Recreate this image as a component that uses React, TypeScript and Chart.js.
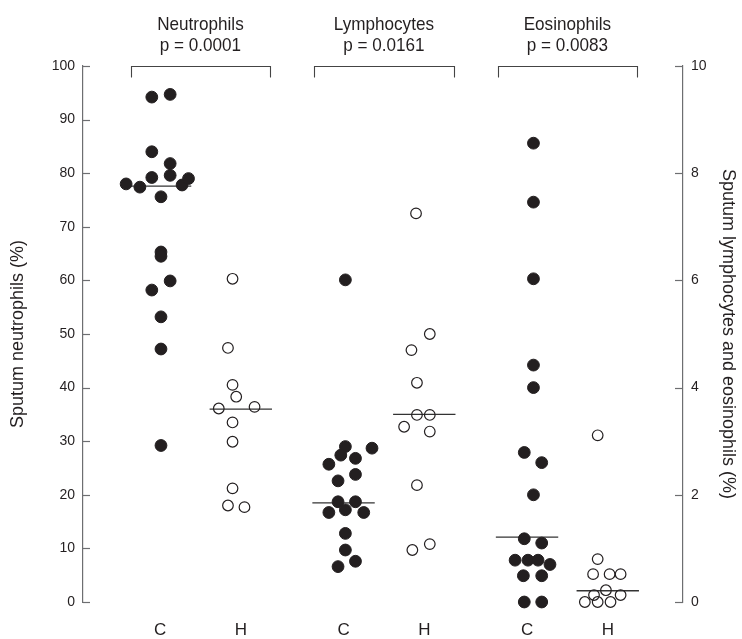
import { useEffect, useRef } from "react";
import { Chart, registerables } from "chart.js";

Chart.register(...registerables);

// ---------- data ----------
const groupNames = ["Neutrophils", "Lymphocytes", "Eosinophils"];
const groupPValues = ["p = 0.0001", "p = 0.0161", "p = 0.0083"];
const categoryLabels = ["C", "H", "C", "H", "C", "H"];
const leftTickValues = [0, 10, 20, 30, 40, 50, 60, 70, 80, 90, 100];
const rightTickValues = [0, 2, 4, 6, 8, 10];

// Sputum neutrophils (%), left axis
const neutroC = [94.2, 94.7, 84.0, 81.8, 79.2, 79.6, 78.0, 77.4, 77.8, 79.0, 75.6, 65.3, 64.5, 59.9, 58.2, 53.2, 47.2, 29.2];
const neutroCJitter = [-0.045, 0.055, -0.045, 0.055, -0.045, 0.055, -0.185, -0.11, 0.12, 0.155, 0.005, 0.005, 0.005, 0.055, -0.045, 0.005, 0.005, 0.005];
const neutroH = [60.3, 47.4, 40.5, 38.3, 36.1, 36.4, 33.5, 29.9, 21.2, 18.0, 17.7];
const neutroHJitter = [-0.045, -0.07, -0.045, -0.025, -0.12, 0.075, -0.045, -0.045, -0.045, -0.07, 0.02];

// Sputum lymphocytes (%), right axis
const lymphoC = [6.01, 2.9, 2.87, 2.74, 2.68, 2.57, 2.38, 2.26, 1.87, 1.87, 1.67, 1.72, 1.67, 1.28, 0.97, 0.76, 0.66];
const lymphoCJitter = [0.01, 0.01, 0.155, -0.015, 0.065, -0.08, 0.065, -0.03, -0.03, 0.065, -0.08, 0.01, 0.11, 0.01, 0.01, 0.065, -0.03];
const lymphoH = [7.25, 5.0, 4.7, 4.09, 3.49, 3.49, 3.27, 3.18, 2.18, 0.97, 1.08];
const lymphoHJitter = [-0.045, 0.03, -0.07, -0.04, -0.04, 0.03, -0.11, 0.03, -0.04, -0.065, 0.03];

// Sputum eosinophils (%), right axis
const eosinoC = [8.56, 7.46, 6.03, 4.42, 4.0, 2.79, 2.6, 2.0, 1.18, 1.1, 0.78, 0.78, 0.78, 0.7, 0.49, 0.49, 0.0, 0.0];
const eosinoCJitter = [0.035, 0.035, 0.035, 0.035, 0.035, -0.015, 0.08, 0.035, -0.015, 0.08, -0.065, 0.005, 0.06, 0.125, -0.02, 0.08, -0.015, 0.08];
const eosinoH = [3.11, 0.8, 0.52, 0.52, 0.52, 0.13, 0.22, 0.13, 0.0, 0.0, 0.0];
const eosinoHJitter = [-0.055, -0.055, -0.08, 0.01, 0.07, -0.075, -0.01, 0.07, -0.125, -0.055, 0.015];

// medians in category order C,H,C,H,C,H
const medians = [77.6, 36.0, 1.85, 3.5, 1.21, 0.21];

// ---------- styling ----------
const FONT = "'Liberation Sans', Arial, Helvetica, sans-serif";
const INK = "#231f20";
const AXIS = "#6d6e71";
const SIDE_OFFSET = 0.22;
const MEDIAN_HALF = 0.17;
const BRACKET_HALF = 0.38;

const catPos = (k: number) => Math.floor(k / 2) + (k % 2 === 0 ? -SIDE_OFFSET : SIDE_OFFSET);

const seriesList = [
  { values: neutroC, jitter: neutroCJitter, cat: 0, axis: "y", filled: true },
  { values: neutroH, jitter: neutroHJitter, cat: 1, axis: "y", filled: false },
  { values: lymphoC, jitter: lymphoCJitter, cat: 2, axis: "y2", filled: true },
  { values: lymphoH, jitter: lymphoHJitter, cat: 3, axis: "y2", filled: false },
  { values: eosinoC, jitter: eosinoCJitter, cat: 4, axis: "y2", filled: true },
  { values: eosinoH, jitter: eosinoHJitter, cat: 5, axis: "y2", filled: false },
];

const condensedText = (ctx: any, text: string, x: number, y: number) => {
  ctx.save();
  ctx.translate(x, y);
  ctx.scale(0.9, 1);
  ctx.fillText(text, 0, 0);
  ctx.restore();
};

const decorPlugin = {
  id: "decor",
  afterDraw(chart: any) {
    const ctx = chart.ctx;
    const xs = chart.scales.x;
    const yl = chart.scales.y;
    const yr = chart.scales.y2;
    const top = chart.chartArea.top;
    ctx.save();
    ctx.strokeStyle = AXIS;
    ctx.lineWidth = 1.2;
    // inward tick marks
    yl.ticks.forEach((t: any) => {
      const py = Math.round(yl.getPixelForValue(t.value)) + 0.5;
      ctx.beginPath();
      ctx.moveTo(yl.right, py);
      ctx.lineTo(yl.right + 7, py);
      ctx.stroke();
    });
    yr.ticks.forEach((t: any) => {
      const py = Math.round(yr.getPixelForValue(t.value)) + 0.5;
      ctx.beginPath();
      ctx.moveTo(yr.left, py);
      ctx.lineTo(yr.left - 8, py);
      ctx.stroke();
    });
    // brackets and titles
    ctx.strokeStyle = "#444";
    ctx.lineWidth = 1.1;
    ctx.fillStyle = INK;
    ctx.textAlign = "center";
    ctx.textBaseline = "middle";
    ctx.font = `19px ${FONT}`;
    const yb = Math.round(yl.getPixelForValue(100)) + 0.5;
    groupNames.forEach((name, g) => {
      const x1 = Math.round(xs.getPixelForValue(g - BRACKET_HALF)) + 0.5;
      const x2 = Math.round(xs.getPixelForValue(g + BRACKET_HALF)) + 0.5;
      ctx.beginPath();
      ctx.moveTo(x1, yb + 11);
      ctx.lineTo(x1, yb);
      ctx.lineTo(x2, yb);
      ctx.lineTo(x2, yb + 11);
      ctx.stroke();
      const xc = xs.getPixelForValue(g);
      condensedText(ctx, name, xc, top - 41);
      condensedText(ctx, groupPValues[g], xc, top - 20);
    });
    ctx.restore();
  },
};

export default function App() {
  const canvasRef = useRef<HTMLCanvasElement | null>(null);

  useEffect(() => {
    if (!canvasRef.current) return;
    const datasets: any[] = [];
    seriesList.forEach((s) => {
      const base = catPos(s.cat);
      datasets.push({
        type: "scatter",
        data: s.values.map((v, i) => ({ x: base + s.jitter[i], y: v })),
        yAxisID: s.axis,
        pointRadius: s.filled ? 5.9 : 5.3,
        pointBackgroundColor: s.filled ? INK : "rgba(255,255,255,0)",
        pointBorderColor: INK,
        pointBorderWidth: s.filled ? 1 : 1.2,
        clip: false,
        order: 0,
      });
    });
    medians.forEach((m, k) => {
      const c = catPos(k);
      datasets.push({
        type: "line",
        data: [
          { x: c - MEDIAN_HALF, y: m },
          { x: c + MEDIAN_HALF, y: m },
        ],
        yAxisID: k < 2 ? "y" : "y2",
        borderColor: "#333",
        borderWidth: 1.3,
        pointRadius: 0,
        fill: false,
        clip: false,
        order: 1,
      });
    });

    const chart = new Chart(canvasRef.current, {
      type: "scatter",
      data: { datasets },
      options: {
        animation: false,
        responsive: false,
        maintainAspectRatio: false,
        layout: { padding: { top: 66, left: 0, right: 0, bottom: 0 } },
        plugins: { legend: { display: false }, tooltip: { enabled: false } },
        scales: {
          x: {
            type: "linear",
            min: -0.64,
            max: 2.63,
            grid: { display: false },
            border: { display: false },
            afterBuildTicks: (scale: any) => {
              scale.ticks = categoryLabels.map((_, k) => ({ value: catPos(k) }));
            },
            afterFit: (scale: any) => {
              scale.height = 37;
            },
            ticks: {
              autoSkip: false,
              maxRotation: 0,
              padding: 10,
              color: INK,
              font: { family: FONT, size: 17 },
              callback: (_v: any, i: number) => categoryLabels[i],
            },
          },
          y: {
            type: "linear",
            position: "left",
            min: 0,
            max: 100,
            afterBuildTicks: (scale: any) => {
              scale.ticks = leftTickValues.map((v) => ({ value: v }));
            },
            afterFit: (scale: any) => {
              scale.width = 83;
            },
            grid: { display: false, drawTicks: false },
            border: { display: true, color: AXIS, width: 1.2 },
            ticks: { padding: 8, color: INK, font: { family: FONT, size: 14 } },
            title: {
              display: true,
              text: "Sputum neutrophils (%)",
              color: INK,
              font: { family: FONT, size: 18 },
              padding: { top: 7, bottom: 0 },
            },
          },
          y2: {
            type: "linear",
            position: "right",
            min: 0,
            max: 10,
            afterBuildTicks: (scale: any) => {
              scale.ticks = rightTickValues.map((v) => ({ value: v }));
            },
            afterFit: (scale: any) => {
              scale.width = 59;
            },
            grid: { display: false, drawTicks: false },
            border: { display: true, color: AXIS, width: 1.2 },
            ticks: { padding: 8, color: INK, font: { family: FONT, size: 14 } },
            title: {
              display: true,
              text: "Sputum lymphocytes and eosinophils (%)",
              color: INK,
              font: { family: FONT, size: 18 },
              padding: { top: 3, bottom: 0 },
            },
          },
        },
      },
      plugins: [decorPlugin],
    } as any);
    return () => chart.destroy();
  }, []);

  return (
    <div style={{ position: "absolute", left: 0, top: 0, width: 742, height: 639, background: "#fff" }}>
      <canvas ref={canvasRef} width={742} height={639} />
    </div>
  );
}
